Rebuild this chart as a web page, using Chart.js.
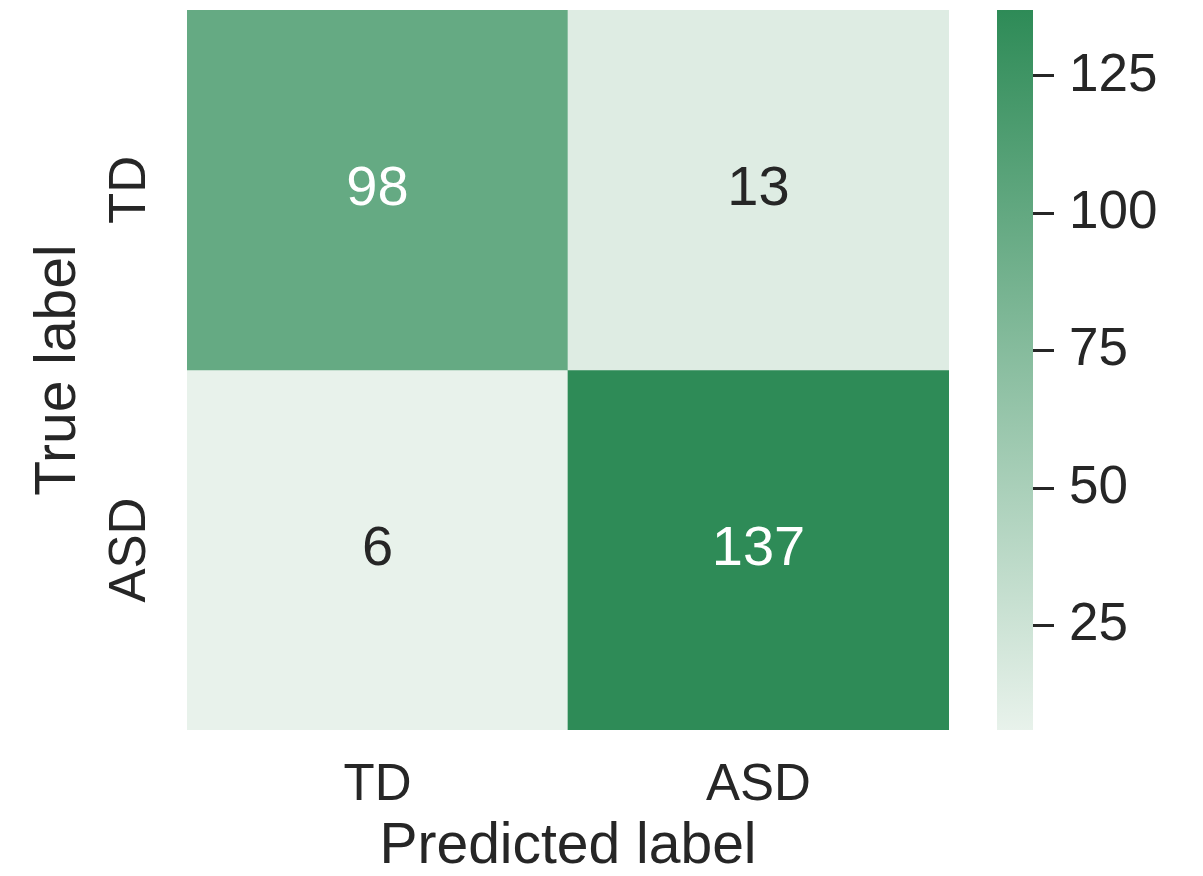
<!DOCTYPE html>
<html>
<head>
<meta charset="utf-8">
<title>Confusion matrix</title>
<script src="https://cdn.jsdelivr.net/npm/chart.js@4.4.0/dist/chart.umd.min.js"></script>
<style>
  body { margin: 0; background: #fff; }
  #wrap { position: relative; width: 1203px; height: 876px; }
  #heat { position: absolute; left: 0; top: 0; }
  #cbar { position: absolute; left: 980px; top: 0; }
</style>
</head>
<body>
<div id="wrap">
  <canvas id="heat" width="960" height="876"></canvas>
  <canvas id="cbar" width="223" height="876"></canvas>
</div>
<script>
const classes = ['TD', 'ASD'];
// rows = true label, columns = predicted label
const rowTD = [98, 13];
const rowASD = [6, 137];
const cbarTicks = [25, 50, 75, 100, 125];

const FONT = '"Liberation Sans", Arial, Helvetica, sans-serif';
const TEXT = '#262626';
const LIGHT = [232, 242, 235];
const SEAGREEN = [46, 139, 87];

const rows = [rowTD, rowASD];
const allVals = rows.flat();
const vmin = Math.min(...allVals);
const vmax = Math.max(...allVals);

function mix(v) {
  const t = (v - vmin) / (vmax - vmin);
  return LIGHT.map((c, i) => Math.round(c + t * (SEAGREEN[i] - c)));
}
function rgb(c) { return 'rgb(' + c.join(',') + ')'; }
function lum(c) {
  const l = c.map(x => {
    x /= 255;
    return x <= 0.03928 ? x / 12.92 : Math.pow((x + 0.055) / 1.055, 2.4);
  });
  return 0.2126 * l[0] + 0.7152 * l[1] + 0.0722 * l[2];
}

// numbers inside the cells
const cellText = {
  id: 'cellText',
  afterDatasetsDraw(chart) {
    const ctx = chart.ctx;
    ctx.save();
    ctx.font = '56px ' + FONT;
    ctx.textAlign = 'center';
    ctx.textBaseline = 'alphabetic';
    chart.data.datasets.forEach((ds, di) => {
      chart.getDatasetMeta(di).data.forEach((bar, i) => {
        const v = ds.values[i];
        ctx.fillStyle = lum(mix(v)) > 0.408 ? TEXT : '#ffffff';
        const cy = (bar.y + bar.base) / 2;
        ctx.fillText(String(v), bar.x, cy + 15);
      });
    });
    ctx.restore();
  }
};

// rotated row labels on the left axis
const rowLabels = {
  id: 'rowLabels',
  afterDraw(chart) {
    const y = chart.scales.y;
    const ctx = chart.ctx;
    ctx.save();
    ctx.font = '51px ' + FONT;
    ctx.fillStyle = TEXT;
    ctx.textAlign = 'center';
    ctx.textBaseline = 'alphabetic';
    classes.forEach((name, i) => {
      ctx.save();
      ctx.translate(y.right - 42, y.getPixelForValue(i + 0.5));
      ctx.rotate(-Math.PI / 2);
      ctx.fillText(name, 0, 0);
      ctx.restore();
    });
    ctx.restore();
  }
};

new Chart(document.getElementById('heat'), {
  type: 'bar',
  data: {
    labels: classes,
    datasets: rows.map((row, i) => ({
      data: row.map(() => [i, i + 1]),
      values: row,
      backgroundColor: row.map(v => rgb(mix(v))),
      borderWidth: 0,
      grouped: false,
      barPercentage: 1,
      categoryPercentage: 1
    }))
  },
  options: {
    responsive: false,
    animation: false,
    layout: { padding: { top: 10, right: 11, left: 0, bottom: 0 } },
    plugins: { legend: { display: false }, tooltip: { enabled: false } },
    scales: {
      x: {
        grid: { display: false, drawTicks: false },
        border: { display: false },
        ticks: { color: TEXT, font: { family: FONT, size: 51 }, padding: 25 },
        title: {
          display: true, text: 'Predicted label', color: TEXT,
          font: { family: FONT, size: 57, lineHeight: 1 }, padding: 0
        },
        afterFit(s) { s.height = 146; }
      },
      y: {
        min: 0, max: 2, reverse: true,
        grid: { display: false, drawTicks: false },
        border: { display: false },
        ticks: { display: false },
        title: {
          display: true, text: 'True label', color: TEXT,
          font: { family: FONT, size: 57, lineHeight: 1 }, padding: { top: 31, bottom: 0 }
        },
        afterFit(s) { s.width = 187; }
      }
    }
  },
  plugins: [cellText, rowLabels]
});

// colour bar, gradient runs from vmin (bottom) to vmax (top)
function barGradient(c) {
  const chart = c.chart;
  const y = chart.scales.y;
  const area = chart.chartArea;
  if (!area || !y) return rgb(SEAGREEN);
  const y0 = y.getPixelForValue(vmin);
  const y1 = y.getPixelForValue(vmax);
  if (!Number.isFinite(y0) || !Number.isFinite(y1)) return rgb(SEAGREEN);
  const g = chart.ctx.createLinearGradient(0, y0, 0, y1);
  g.addColorStop(0, rgb(LIGHT));
  g.addColorStop(1, rgb(SEAGREEN));
  return g;
}

new Chart(document.getElementById('cbar'), {
  type: 'bar',
  data: {
    labels: [''],
    datasets: [{
      data: [[vmin, vmax]],
      borderWidth: 0,
      barPercentage: 1,
      categoryPercentage: 1,
      backgroundColor: barGradient
    }]
  },
  options: {
    responsive: false,
    animation: false,
    layout: { padding: { top: 10, left: 17, right: 0, bottom: 146 } },
    plugins: { legend: { display: false }, tooltip: { enabled: false } },
    scales: {
      x: { display: false },
      y: {
        position: 'right',
        min: vmin, max: vmax,
        afterBuildTicks(s) { s.ticks = cbarTicks.map(v => ({ value: v })); },
        grid: { drawOnChartArea: false, drawTicks: true, tickLength: 21, tickWidth: 3, tickColor: TEXT },
        border: { display: false },
        ticks: { color: TEXT, font: { family: FONT, size: 53 }, padding: 15 },
        afterFit(s) {
          s.width = 170;
          // bar must span the same height as the matrix
          s.paddingTop = 0;
          s.paddingBottom = 0;
        }
      }
    }
  }
});
</script>
</body>
</html>
